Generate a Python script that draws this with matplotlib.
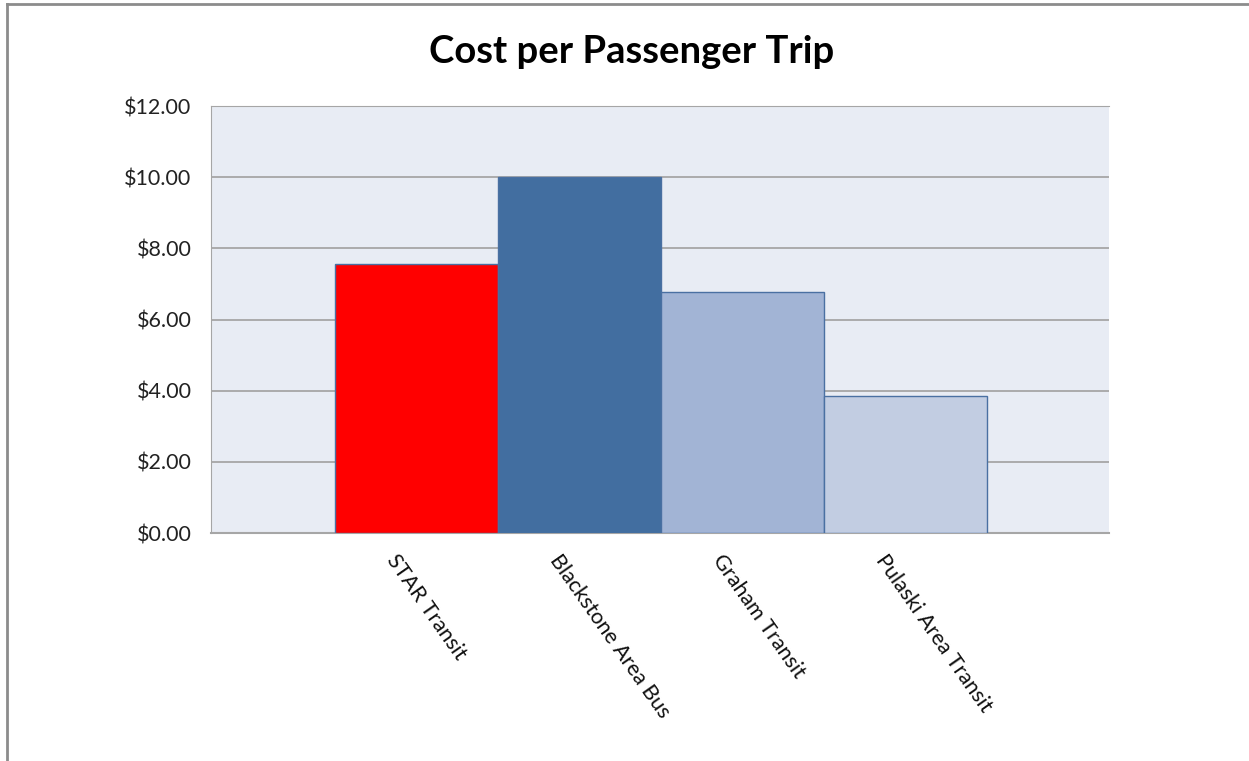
import matplotlib.pyplot as plt
import matplotlib.transforms as mtransforms
from matplotlib.lines import Line2D
from matplotlib.ticker import FuncFormatter

plt.rcParams['font.family'] = ['Lato', 'DejaVu Sans']

agencies = ["STAR Transit", "Blackstone Area Bus", "Graham Transit", "Pulaski Area Transit"]
cost_per_trip = [7.55, 10.0, 6.78, 3.85]
bar_colors = ["#FF0000", "#426EA0", "#A2B4D5", "#C2CDE2"]
y_ticks = [0, 2, 4, 6, 8, 10, 12]

fig = plt.figure(figsize=(12.49, 7.61), dpi=100)
ax = fig.add_axes([211 / 1249, (761 - 533) / 761, 898 / 1249, 427 / 761])
ax.set_facecolor("#E8ECF4")

x = list(range(len(agencies)))
ax.bar(x, cost_per_trip, width=1.0, color=bar_colors, edgecolor="#4A70A2",
       linewidth=1.0, zorder=3)

ax.set_xlim(-1.258, 4.25)
ax.set_ylim(0, 12)
ax.set_yticks(y_ticks)
ax.yaxis.set_major_formatter(FuncFormatter(lambda v, p: f"${v:.2f}"))
ax.grid(axis="y", color="#A6A6A6", linewidth=1.3, zorder=1)
ax.set_axisbelow(True)

ax.spines["right"].set_visible(False)
for side in ["top", "left", "bottom"]:
    ax.spines[side].set_color("#A6A6A6")
ax.spines["bottom"].set_linewidth(1.5)

ax.tick_params(axis="y", length=0, pad=14, labelsize=15.5, labelcolor="#222222")
ax.tick_params(axis="x", length=0, pad=17)
ax.set_xticks(x)
ax.set_xticklabels(agencies, rotation=-55, ha="left", va="center",
                   rotation_mode="anchor", fontsize=15.5, color="#111111")
shift = mtransforms.ScaledTranslation(-25 / 100, 0, fig.dpi_scale_trans)
for lbl in ax.get_xticklabels():
    lbl.set_transform(lbl.get_transform() + shift)

fig.text(0.506, 1 - 52 / 761, "Cost per Passenger Trip", ha="center", va="center",
         fontsize=27.5, fontweight="bold")

# outer chart frame (top and left edges)
fig.add_artist(Line2D([7 / 1249, 7 / 1249], [0, 1 - 4 / 761], color="#8C8C8C", linewidth=2))
fig.add_artist(Line2D([7 / 1249, 1], [1 - 4 / 761, 1 - 4 / 761], color="#8C8C8C", linewidth=2))

fig.savefig("out.png", dpi=100)
